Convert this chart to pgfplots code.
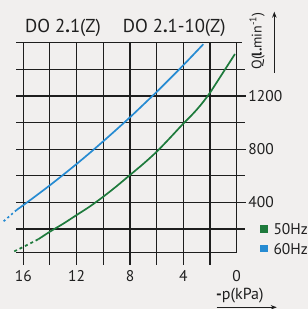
\documentclass[border=0pt]{standalone}
\usepackage{fontspec}
\setmainfont{PT Sans}
\usepackage{pgfplots}
\pgfplotsset{compat=1.18}
\usetikzlibrary{arrows.meta}
\definecolor{bg}{HTML}{F1EFEE}
\definecolor{cgreen}{HTML}{1E7A3C}
\definecolor{cblue}{HTML}{268BD2}
\definecolor{gridc}{HTML}{1E1E1E}
\begin{document}
\begin{tikzpicture}
\path[use as bounding box] (0pt,0pt) rectangle (308pt,309pt);
\fill[bg] (0pt,0pt) rectangle (308pt,309pt);
\begin{axis}[
  at={(0pt,0pt)}, anchor=south west,
  scale only axis, width=308pt, height=309pt,
  xmin=-17.744, xmax=5.345, ymin=-401.6, ymax=1922,
  axis line style={draw=none},
  major tick length=0pt,
  clip=false,
  xtick={-16,-12,-8,-4,0}, xticklabels={16,12,8,4,0},
  ytick={400,800,1200}, yticklabels={400,800,1200},
  yticklabel pos=right,
  /pgf/number format/assume math mode=true,
  tick label style={font=\fontsize{15.5}{18}\selectfont, inner sep=0pt, text=black!88},
  xticklabel style={anchor=base, yshift=27.3pt},
  yticklabel style={anchor=west, xshift=-59.7pt},
  legend style={at={(axis cs:1.747,241)}, anchor=north west, draw=none, fill=none,
    inner sep=0pt, font=\fontsize{15.5}{18}\selectfont, row sep=8.3pt, column sep=5.6pt,
    nodes={inner sep=0pt, text height=11pt, text depth=0pt, text=black!88}},
  legend cell align=left,
  legend image code/.code={\fill[#1, draw=none] (0pt,-3.85pt) rectangle (7.7pt,3.85pt);},
]
% grid
\draw[gridc, line width=1.1pt] (axis cs:-16,1600) -- (axis cs:-16,-70);
\draw[gridc, line width=1.1pt] (axis cs:-14,1600) -- (axis cs:-14,-70);
\draw[gridc, line width=1.1pt] (axis cs:-12,1600) -- (axis cs:-12,-70);
\draw[gridc, line width=1.1pt] (axis cs:-10,1600) -- (axis cs:-10,-70);
\draw[gridc, line width=1.1pt] (axis cs:-8,1600) -- (axis cs:-8,-70);
\draw[gridc, line width=1.1pt] (axis cs:-6,1600) -- (axis cs:-6,-70);
\draw[gridc, line width=1.1pt] (axis cs:-4,1600) -- (axis cs:-4,-70);
\draw[gridc, line width=1.1pt] (axis cs:-2,1600) -- (axis cs:-2,-70);
\draw[gridc, line width=1.1pt] (axis cs:0,1600) -- (axis cs:0,20);
\draw[gridc, line width=1.1pt] (axis cs:-16.54,1600) -- (axis cs:0.37,1600);
\draw[gridc, line width=1.1pt] (axis cs:-16.54,1400) -- (axis cs:0.65,1400);
\draw[gridc, line width=1.1pt] (axis cs:-16.54,1200) -- (axis cs:0.7,1200);
\draw[gridc, line width=1.1pt] (axis cs:-16.54,1000) -- (axis cs:0.65,1000);
\draw[gridc, line width=1.1pt] (axis cs:-16.54,800) -- (axis cs:0.7,800);
\draw[gridc, line width=1.1pt] (axis cs:-16.54,600) -- (axis cs:0.65,600);
\draw[gridc, line width=1.1pt] (axis cs:-16.54,400) -- (axis cs:0.7,400);
\draw[gridc, line width=1.1pt] (axis cs:-16.54,200) -- (axis cs:0.65,200);
\draw[gridc, line width=1.1pt] (axis cs:-16.54,20) -- (axis cs:0,20);
% curves
\addplot[cgreen, line width=1.7pt, smooth] coordinates {
 (-0.13,1516) (-0.5,1458) (-1,1380) (-1.5,1302) (-2,1225) (-2.5,1157) (-3,1097)
 (-3.5,1043) (-4,993) (-5,885) (-6,781) (-7,690) (-8,606) (-9,522) (-10,443)
 (-11,370) (-12,305) (-13,240) (-14,180) (-14.87,123)};
\addlegendentry{50Hz}
\addplot[cblue, line width=1.7pt, smooth] coordinates {
 (-2.5,1590) (-3,1537) (-4,1432) (-5,1331) (-6,1231) (-7,1135) (-8,1040)
 (-9,949) (-10,860) (-11,773) (-12,689) (-13,608) (-14,529) (-15,453)
 (-16,379) (-16.5,343)};
\addlegendentry{60Hz}
\addplot[cgreen, line width=1.7pt, dash pattern=on 3pt off 3pt, forget plot] coordinates {
 (-14.87,123) (-15.9,70) (-16.87,22)};
\addplot[cblue, line width=1.7pt, dash pattern=on 2.2pt off 2.8pt, forget plot] coordinates {
 (-16.5,343) (-17.62,245)};
% texts
\node[anchor=base west, inner sep=0pt, font=\fontsize{18.7}{22}\selectfont, text=black!88] at (axis cs:-15.87,1676) {DO 2\textbf{.}1(Z)};
\node[anchor=base west, inner sep=0pt, font=\fontsize{18.7}{22}\selectfont, text=black!88] at (axis cs:-8.55,1676) {DO 2\textbf{.}1-10(Z)};
\node[rotate=90, anchor=center, inner sep=0pt, font=\fontsize{14}{16}\selectfont, text=black!88] at (axis cs:1.52,1614) {Q(\textbf{l.}min\textsuperscript{-1})};
\draw[-{Stealth[length=6pt,width=4.5pt]}, line width=0.9pt, black!88] (axis cs:2.82,1375) -- (axis cs:2.82,1834);
\node[anchor=base west, inner sep=0pt, font=\fontsize{16}{19}\selectfont, text=black!88] at (axis cs:-1.55,-328.6) {\textbf{-}p(kPa)};
\draw[-{Stealth[length=6pt,width=4.5pt]}, line width=0.9pt, black!88] (axis cs:-1.5,-388.8) -- (axis cs:3.0,-388.8);
\end{axis}
\end{tikzpicture}
\end{document}
